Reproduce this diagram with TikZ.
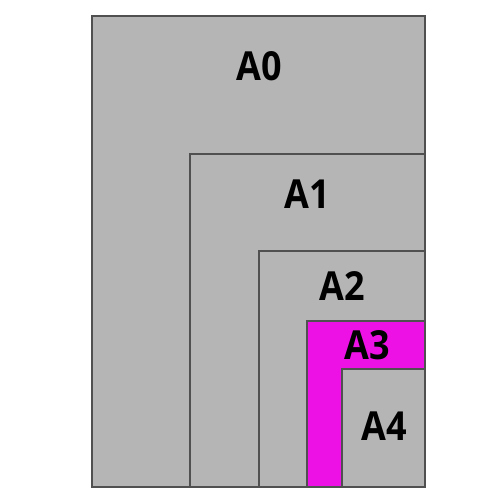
\documentclass[tikz,border=0pt]{standalone}
\usepackage{fontspec}
\setmainfont{Open Sans}
\newfontfamily\lblfont{Open Sans Bold}[FakeStretch=0.9]
\definecolor{sheetgray}{RGB}{181,181,181}
\definecolor{sheetmag}{RGB}{238,17,230}
\definecolor{edgegray}{RGB}{80,80,80}
\begin{document}
\begin{tikzpicture}[x=1pt,y=-1pt,
  sheet/.style={fill=sheetgray,draw=edgegray,line width=1.4pt},
  hilite/.style={fill=sheetmag,draw=edgegray,line width=1.4pt},
  lbl/.style={font=\fontsize{40}{42}\lblfont,text=black,inner sep=0pt,anchor=center}]
\useasboundingbox (0,0) rectangle (500,500);
\path[sheet] (92,16) rectangle (425,487);
\path[sheet] (190,154) rectangle (425,487);
\path[sheet] (259,251) rectangle (425,487);
\path[hilite] (307,321) rectangle (425,487);
\path[sheet] (342,369) rectangle (425,487);
\node[lbl] (a0) at (259,66) {A0};
\node[lbl] (a1) at (307,194.5) {A1};
\node[lbl] (a2) at (342,286) {A2};
\node[lbl] (a3) at (367,345.5) {A3};
\node[lbl] (a4) at (384,426) {A4};
\end{tikzpicture}
\end{document}
